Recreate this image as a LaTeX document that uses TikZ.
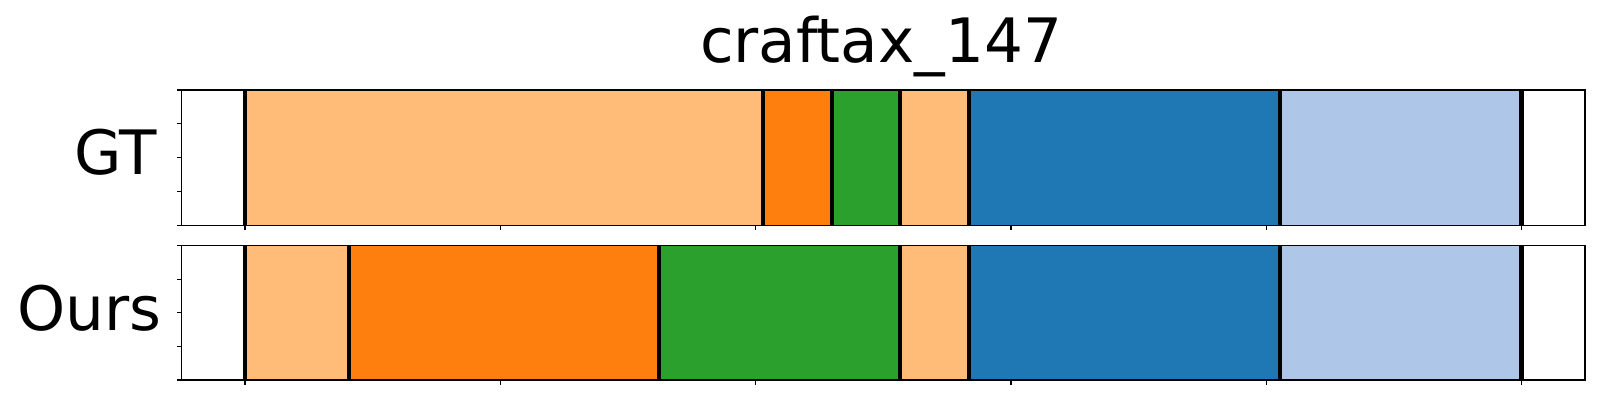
\documentclass[tikz,border=0pt]{standalone}
\usepackage{fontspec}
\setmainfont{DejaVu Sans}
\usepackage{tikz}

\definecolor{peach}{HTML}{FFBB78}
\definecolor{torange}{HTML}{FF7F0E}
\definecolor{tgreen}{HTML}{2CA02C}
\definecolor{tblue}{HTML}{1F77B4}
\definecolor{lblue}{HTML}{AEC7E8}

\begin{document}
\begin{tikzpicture}[x=0.01cm,y=-0.01cm,
  frame/.style={draw=black,line width=0.35pt},
  cut/.style={draw=black,line width=1.15pt},
  tick/.style={draw=black,line width=0.3pt},
  every node/.style={inner sep=0pt,font=\fontsize{17.4}{20}\selectfont}]
\useasboundingbox (0,0) rectangle (1600,400);

\node[anchor=base] (title) at (881,62) {craftax\_147};
\node[anchor=base east] (gt) at (158,174.3) {GT};
\node[anchor=base east] (ours) at (162,330) {Ours};

% GT row
\fill[peach]   (245,90) rectangle (762.8,225.3);
\fill[torange] (762.8,90) rectangle (832,225.3);
\fill[tgreen]  (832,90) rectangle (900,225.3);
\fill[peach]   (900,90) rectangle (968.7,225.3);
\fill[tblue]   (968.7,90) rectangle (1280,225.3);
\fill[lblue]   (1280,90) rectangle (1521.5,225.3);

% Ours row
\fill[peach]   (245,245.5) rectangle (349,380);
\fill[torange] (349,245.5) rectangle (659,380);
\fill[tgreen]  (659,245.5) rectangle (900,380);
\fill[peach]   (900,245.5) rectangle (968.7,380);
\fill[tblue]   (968.7,245.5) rectangle (1280,380);
\fill[lblue]   (1280,245.5) rectangle (1521.5,380);

% boundaries
\draw[cut] (245,90)--(245,225.3);
\draw[cut] (762.8,90)--(762.8,225.3);
\draw[cut] (832,90)--(832,225.3);
\draw[cut] (900,90)--(900,225.3);
\draw[cut] (968.7,90)--(968.7,225.3);
\draw[cut] (1280,90)--(1280,225.3);
\draw[cut] (1521.5,90)--(1521.5,225.3);

\draw[cut] (245,245.5)--(245,380);
\draw[cut] (349,245.5)--(349,380);
\draw[cut] (659,245.5)--(659,380);
\draw[cut] (900,245.5)--(900,380);
\draw[cut] (968.7,245.5)--(968.7,380);
\draw[cut] (1280,245.5)--(1280,380);
\draw[cut] (1521.5,245.5)--(1521.5,380);

% axes
\draw[frame] (181.5,90) rectangle (1585,225.3);
\draw[frame] (181.5,245.5) rectangle (1585,380);

\foreach \k in {0,...,5} {
  \draw[tick] (245+255.33*\k,225.3)--++(0,5);
  \draw[tick] (245+255.33*\k,380)--++(0,5);
}
\foreach \k in {0,...,4} {
  \draw[tick] (181.5,90+33.83*\k)--++(-5,0);
  \draw[tick] (181.5,245.5+33.63*\k)--++(-5,0);
}

\end{tikzpicture}
\end{document}
